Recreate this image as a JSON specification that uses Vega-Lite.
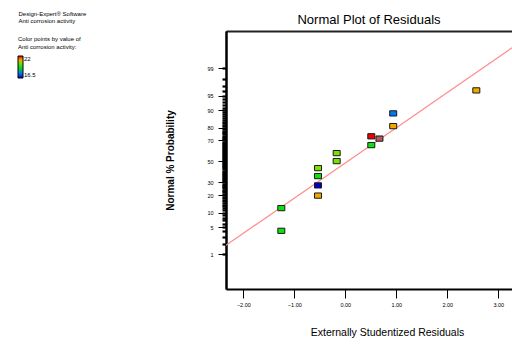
{
  "$schema": "https://vega.github.io/schema/vega-lite/v6.json",
  "width": 286,
  "height": 258,
  "autosize": "none",
  "padding": {"left": 226, "top": 31, "right": 0, "bottom": 60},
  "background": "white",
  "title": {
    "text": "Normal Plot of Residuals",
    "font": "Liberation Sans Narrow, Liberation Sans",
    "fontSize": 13,
    "fontWeight": "normal",
    "color": "black",
    "anchor": "middle",
    "offset": 6,
    "dy": 23
  },
  "config": {
    "view": {"stroke": null},
    "axis": {"grid": false, "labelFont": "Liberation Sans", "titleFont": "Liberation Sans", "domainColor": "black", "tickColor": "black", "labelColor": "black", "titleColor": "black"},
    "legend": {"labelFont": "Liberation Sans", "titleFont": "Liberation Sans"}
  },
  "datasets": {
    "residuals": [
      {"residual": -1.255, "normalScore": -1.735, "activity": 19.25, "highlighted": false},
      {"residual": -1.255, "normalScore": -1.1675, "activity": 19.25, "highlighted": false},
      {"residual": -0.535, "normalScore": -0.855, "activity": 21.0, "highlighted": false},
      {"residual": -0.535, "normalScore": -0.6, "activity": 16.5, "highlighted": false},
      {"residual": -0.535, "normalScore": -0.3675, "activity": 19.25, "highlighted": false},
      {"residual": -0.535, "normalScore": -0.1675, "activity": 20.2, "highlighted": false},
      {"residual": -0.169, "normalScore": 0.0075, "activity": 20.2, "highlighted": false},
      {"residual": -0.169, "normalScore": 0.2075, "activity": 20.2, "highlighted": false},
      {"residual": 0.51, "normalScore": 0.4075, "activity": 19.25, "highlighted": false},
      {"residual": 0.51, "normalScore": 0.6275, "activity": 22.0, "highlighted": false},
      {"residual": 0.67, "normalScore": 0.57, "activity": 22.0, "highlighted": true},
      {"residual": 0.94, "normalScore": 0.8825, "activity": 21.0, "highlighted": false},
      {"residual": 0.94, "normalScore": 1.2, "activity": 17.6, "highlighted": false},
      {"residual": 2.57, "normalScore": 1.775, "activity": 21.0, "highlighted": false}
    ],
    "refline": [
      {"residual": -2.34, "normalScore": -2.097},
      {"residual": 3.27, "normalScore": 2.84}
    ]
  },
  "resolve": {"axis": {"x": "independent", "y": "independent"}},
  "layer": [
    {
      "data": {"name": "refline"},
      "mark": {"type": "line", "color": "#ff8c8c", "strokeWidth": 1.2, "clip": true},
      "encoding": {
        "x": {
          "field": "residual", "type": "quantitative",
          "scale": {"domain": [-2.34, 3.27], "nice": false, "zero": false},
          "axis": {
            "orient": "top", "labels": false, "ticks": false, "domainWidth": 2, "domainColor": "#222",
            "title": ["Design-Expert® Software", "Anti corrosion activity"],
            "titleFontSize": 6, "titleFontWeight": "normal", "titleLineHeight": 7.5,
            "titleX": -208, "titleY": -21, "titleAlign": "left", "titleBaseline": "top", "titleAnchor": "start"
          }
        },
        "y": {
          "field": "normalScore", "type": "quantitative",
          "scale": {"domain": [-3.19, 3.26], "nice": false, "zero": false},
          "axis": {
            "orient": "left", "labels": false, "title": null, "tickSize": 4, "tickWidth": 2.2, "domainWidth": 2,
            "values": [-2.3263,-2.0537,-1.8808,-1.7507,-1.6449,-1.5548,-1.4758,-1.4051,-1.3408,-1.2816,-1.2265,-1.175,-1.1264,-1.0803,-1.0364,-0.9945,-0.9542,-0.9154,-0.8779,-0.8416,-0.8064,-0.7722,-0.7388,-0.7063,-0.6745,-0.6433,-0.6128,-0.5828,-0.5534,-0.5244,-0.4959,-0.4677,-0.4399,-0.4125,-0.3853,-0.3585,-0.3319,-0.3055,-0.2793,-0.2533,-0.2275,-0.2019,-0.1764,-0.151,-0.1257,-0.1004,-0.0753,-0.0502,-0.0251,0,0.0251,0.0502,0.0753,0.1004,0.1257,0.151,0.1764,0.2019,0.2275,0.2533,0.2793,0.3055,0.3319,0.3585,0.3853,0.4125,0.4399,0.4677,0.4959,0.5244,0.5534,0.5828,0.6128,0.6433,0.6745,0.7063,0.7388,0.7722,0.8064,0.8416,0.8779,0.9154,0.9542,0.9945,1.0364,1.0803,1.1264,1.175,1.2265,1.2816,1.3408,1.4051,1.4758,1.5548,1.6449,1.7507,1.8808,2.0537,2.3263]
          }
        }
      }
    },
    {
      "data": {"name": "residuals"},
      "mark": {"type": "point", "shape": "M-1.2,-0.9H1.2V0.9H-1.2Z", "size": 34, "filled": true, "stroke": "#1a1a1a", "strokeWidth": 1, "opacity": 1},
      "encoding": {
        "x": {
          "field": "residual", "type": "quantitative",
          "scale": {"domain": [-2.34, 3.27], "nice": false, "zero": false},
          "axis": {
            "orient": "bottom", "values": [-2, -1, 0, 1, 2, 3], "format": ".2f",
            "tickSize": 9, "tickWidth": 1, "labelFontSize": 5.5, "labelPadding": 4, "domainWidth": 2,
            "title": "Externally Studentized Residuals", "titleFontSize": 10.5, "titleFontWeight": "normal",
            "titleX": 161, "titleY": 43, "titleBaseline": "middle", "labelFlush": false
          }
        },
        "y": {
          "field": "normalScore", "type": "quantitative",
          "scale": {"domain": [-3.19, 3.26], "nice": false, "zero": false},
          "axis": {
            "orient": "left",
            "values": [-2.3263, -1.6449, -1.2816, -0.8416, -0.5244, 0, 0.5244, 0.8416, 1.2816, 1.6449, 2.3263],
            "labelExpr": "format(cumulativeNormal(datum.value) * 100, '.0f')",
            "tickSize": 8, "tickWidth": 1, "labelFontSize": 5.5, "labelPadding": 5, "domainWidth": 2,
            "title": "Normal % Probability", "titleFontSize": 10, "titleFontWeight": "bold",
            "titleX": -51, "titleY": 129, "titleAngle": -90, "titleBaseline": "bottom", "titleAlign": "center"
          }
        },
        "color": {
          "condition": {"test": "datum.highlighted", "value": "#b45a5a"},
          "field": "activity", "type": "quantitative",
          "scale": {
            "domain": [16.5, 17.6, 19.25, 20.2, 21.0, 22],
            "range": ["#0000cc", "#0078f0", "#10e010", "#80dd00", "#f0a800", "#ee0000"],
            "interpolate": "rgb"
          },
          "legend": {
            "orient": "none", "legendX": -208, "legendY": 5, "direction": "vertical",
            "title": ["Color points by value of", "Anti corrosion activity:"],
            "titleFontSize": 6, "titleFontWeight": "normal", "titleLineHeight": 8, "titleColor": "black", "titlePadding": 6,
            "gradientLength": 22, "gradientThickness": 5, "gradientStrokeColor": "black", "gradientStrokeWidth": 1,
            "values": [16.5, 22], "format": ".3~r", "labelFontSize": 6, "labelOffset": 1,
            "encode": {"labels": {"update": {"fill": {"signal": "datum.value > 20 ? '#ee0000' : '#0000ee'"}}}}
          }
        }
      }
    }
  ]
}
